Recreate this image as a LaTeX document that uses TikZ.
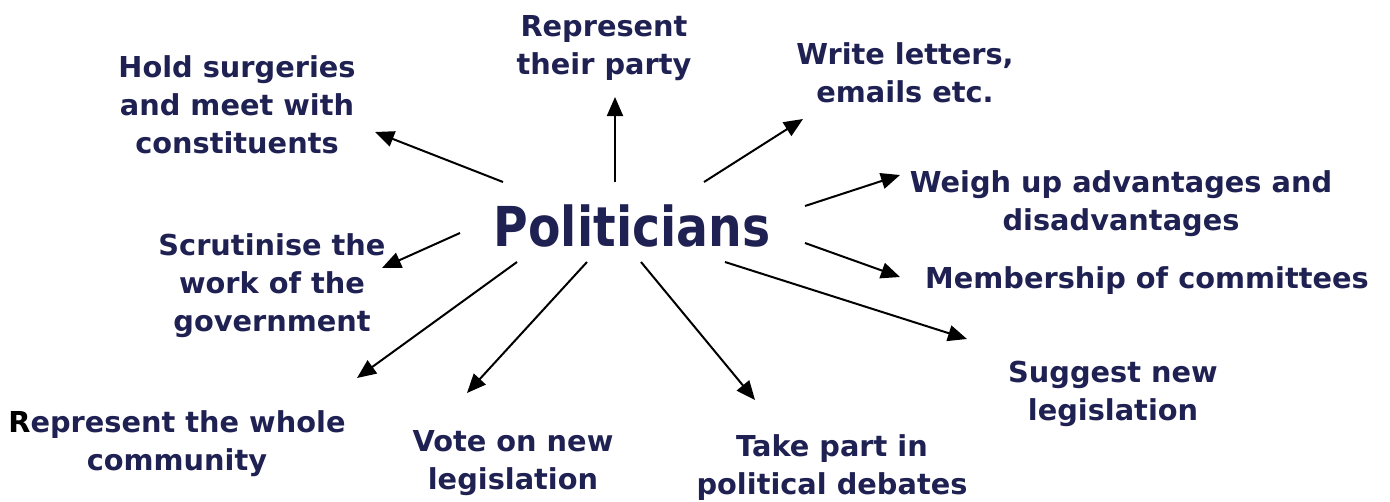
\documentclass[tikz,border=0pt]{standalone}
\usepackage{fontspec}
\setmainfont{DejaVu Sans}
\usetikzlibrary{arrows.meta}
\definecolor{navy}{RGB}{31,33,82}
\tikzset{
  lbl/.style={anchor=base, align=center, text=navy, inner sep=0pt,
    font=\fontsize{28.8}{38}\selectfont\bfseries},
  arr/.style={draw=black, line width=2pt, -{Triangle[length=19pt,width=16pt]}}
}
\begin{document}
\begin{tikzpicture}[x=1pt,y=-1pt]
\useasboundingbox[fill=white] (0,0) rectangle (1390,501);
\node[anchor=base, text=navy, inner sep=0pt, font=\fontsize{55}{60}\selectfont\bfseries] (pol) at (632,246) {\scalebox{0.86}[1]{Politicians}};

% base anchor = baseline of the last line
\node[lbl] (party) at (604,74) {Represent\\their party};
\node[lbl] (write) at (905,102) {Write letters,\\emails etc.};
\node[lbl] (hold) at (237,153) {Hold surgeries\\and meet with\\constituents};
\node[lbl] (weigh) at (1121,230) {Weigh up advantages and\\disadvantages};
\node[lbl] (memb) at (1147,288) {Membership of committees};
\node[lbl] (scrut) at (272,331) {Scrutinise the\\work of the\\government};
\node[lbl] (sugg) at (1113,420) {Suggest new\\legislation};
\node[lbl] (whole) at (177,470) {\textcolor{black}{R}epresent the whole\\community};
\node[lbl] (vote) at (513,489) {Vote on new\\legislation};
\node[lbl] (take) at (832,494) {Take part in\\political debates};

\coordinate (s1) at (503,182); \coordinate (e1) at (375,132);
\coordinate (s2) at (615,182); \coordinate (e2) at (615,97);
\coordinate (s3) at (704,182); \coordinate (e3) at (803,119);
\coordinate (s4) at (805,206); \coordinate (e4) at (900,175);
\coordinate (s5) at (805,243); \coordinate (e5) at (900,277);
\coordinate (s6) at (725,262); \coordinate (e6) at (967,339);
\coordinate (s7) at (641,262); \coordinate (e7) at (755,400);
\coordinate (s8) at (587,262); \coordinate (e8) at (467,393);
\coordinate (s9) at (517,262); \coordinate (e9) at (357,378);
\coordinate (s10) at (460,233); \coordinate (e10) at (382,268);

\foreach \i in {1,...,10} { \draw[arr] (s\i) -- (e\i); }
\end{tikzpicture}
\end{document}
